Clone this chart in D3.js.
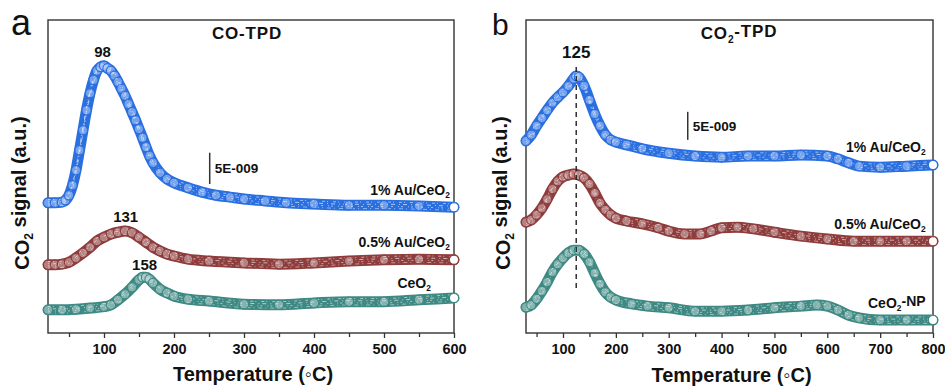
<!DOCTYPE html>
<html>
<head>
<meta charset="utf-8">
<script src="https://cdn.jsdelivr.net/npm/d3@7"></script>
<style>
  body { margin: 0; background: #fff; }
  svg text { font-family: "Liberation Sans", Arial, sans-serif; font-weight: bold; fill: #111; }
</style>
</head>
<body>
<svg id="chart" width="945" height="388"></svg>
<script>
// panel a: CO-TPD, signal in 1E-009 units (curves stacked with offsets)
const coTemp1 = [20,30,40,45,50,55,60,65,70,75,80,85,90,95,100,105,110,115,120,125,130,135,140,145,150,155,160,165,170,180,190,200,220,240,260,280,300,330,360,400,450,500,550,600];
const coSig1  = [20.8,20.8,20.9,21.2,22.0,23.6,26.0,29.2,32.4,35.6,38.3,40.4,41.9,42.5,42.7,42.3,41.9,41.1,40.1,39.0,37.9,36.6,35.3,34.0,32.6,31.2,29.7,28.3,27.2,25.6,24.6,24.0,23.2,22.5,22.0,21.7,21.4,21.1,20.8,20.6,20.4,20.4,20.3,20.1];
const coTemp05 = [20,30,40,50,60,70,80,90,100,110,120,130,140,150,160,170,180,190,200,220,250,300,350,400,450,500,550,600];
const coSig05  = [10.9,10.9,11.0,11.3,12.0,12.8,13.7,14.7,15.3,15.8,16.1,16.3,16.0,15.3,14.5,13.7,13.1,12.6,12.3,11.8,11.5,11.2,11.0,11.2,11.5,11.7,11.8,11.7];
const coTempCe = [20,40,60,80,100,110,120,130,140,150,155,160,165,170,180,190,200,220,250,300,350,400,450,500,550,600];
const coSigCe  = [3.7,3.7,3.8,4.0,4.2,4.5,5.3,6.2,7.3,8.5,8.9,8.9,8.6,8.0,7.0,6.4,5.9,5.4,5.1,4.6,4.5,4.8,5.0,5.0,5.3,5.6];

// panel b: CO2-TPD
const co2Temp1 = [30,40,50,60,70,80,90,100,110,120,125,130,140,150,160,170,180,190,200,220,250,300,350,400,450,500,550,600,620,640,660,700,750,800];
const co2Sig1  = [34.3,35.4,37.0,38.4,39.8,41.1,42.1,43.0,44.1,45.4,45.9,45.7,44.1,41.6,39.1,37.0,35.4,34.5,34.1,33.6,32.9,32.1,31.6,31.4,31.6,31.6,31.8,31.6,31.1,30.4,29.8,29.6,29.8,30.0];
const co2Temp05 = [30,40,50,60,70,80,90,100,110,120,130,140,150,160,170,180,190,200,220,250,280,300,330,360,380,400,430,460,500,550,600,650,700,750,800];
const co2Sig05  = [19.8,20.2,21.1,22.3,23.9,25.7,27.1,27.9,28.2,28.4,28.2,27.7,26.6,25.0,23.2,22.0,21.1,20.5,20.0,19.5,18.8,18.2,17.7,17.7,18.2,18.8,18.9,18.6,18.0,17.3,16.8,16.4,16.4,16.4,16.4];
const co2TempCe = [30,40,50,60,70,80,90,100,110,120,130,140,150,160,170,180,190,200,230,260,300,350,400,450,500,550,580,600,620,640,660,700,750,800];
const co2SigCe  = [4.6,5.0,6.1,7.5,9.1,10.9,12.3,13.4,14.3,14.8,14.8,14.1,12.7,10.7,8.8,7.3,6.4,5.9,5.2,4.8,4.5,3.9,3.9,4.1,4.5,4.8,5.0,4.8,4.1,3.2,2.7,2.3,2.3,2.3];

const tickA = [100,200,300,400,500,600];
const minorA = [50,150,250,350,450,550];
const tickB = [100,200,300,400,500,600,700,800];
const minorB = [50,150,250,350,450,550,650,750];

const blue = "#2a6fe0", red = "#8e3c3c", teal = "#3e8983";

const svg = d3.select("#chart");

function sub(sel, main, s, after) {
    sel.append("tspan").text(main);
    sel.append("tspan").attr("font-size", "0.6em").attr("dy", "0.35em").text(s);
    if (after) sel.append("tspan").attr("dy", "-0.35em").text(after);
}

function drawPanel(p) {
    const x = d3.scaleLinear().domain(p.xDomain).range([p.left, p.right]);
    const y = d3.scaleLinear().domain([0, p.yMax]).range([p.bottom, p.top]);
    const g = svg.append("g");

    //frame
    g.append("rect")
        .attr("x", p.left).attr("y", p.top)
        .attr("width", p.right - p.left).attr("height", p.bottom - p.top)
        .attr("fill", "none").attr("stroke", "#333").attr("stroke-width", 1.4);

    //bottom axis, major + minor ticks
    const ax = g.append("g").attr("transform", `translate(0,${p.bottom})`)
        .call(d3.axisBottom(x).tickValues(p.ticks).tickSize(5).tickSizeOuter(0).tickPadding(6));
    ax.select(".domain").remove();
    ax.selectAll("line").attr("stroke", "#333").attr("stroke-width", 1.3);
    ax.selectAll("text").style("font-size", "14.5px").attr("fill", "#111");
    const mx = g.append("g").attr("transform", `translate(0,${p.bottom})`)
        .call(d3.axisBottom(x).tickValues(p.minor).tickSize(4).tickFormat(""));
    mx.select(".domain").remove();
    mx.selectAll("line").attr("stroke", "#333").attr("stroke-width", 1.3);

    //curves: thick band of markers with white speckle
    const line = d3.line().x(d => x(d[0])).y(d => y(d[1])).curve(d3.curveMonotoneX);
    const speckle = [
        {off: -3.2, dash: "3 2 1 5", w: 0.9},
        {off: -1, dash: "1 3 4 4", w: 1.0},
        {off: 1.2, dash: "2 5 1 2", w: 0.9},
        {off: 3.3, dash: "4 3 1 4", w: 0.8}
    ];
    p.series.forEach(s => {
        const pts = s.t.map((t, i) => [t, s.v[i]]);
        const sg = g.append("g");
        sg.append("path").attr("d", line(pts)).attr("fill", "none")
            .attr("stroke", s.color).attr("stroke-width", 11)
            .attr("stroke-linecap", "round").attr("stroke-linejoin", "round");
        speckle.forEach(sp => {
            sg.append("path").attr("d", line(pts)).attr("fill", "none")
                .attr("transform", `translate(0,${sp.off})`)
                .attr("stroke", "#fff").attr("stroke-opacity", 0.6)
                .attr("stroke-width", sp.w)
                .attr("stroke-dasharray", sp.dash);
        });
        sg.selectAll("circle").data(pts).join("circle")
            .attr("cx", d => x(d[0])).attr("cy", d => y(d[1]))
            .attr("r", 4.6)
            .attr("fill", "#fff").attr("fill-opacity", 0.35)
            .attr("stroke", s.color).attr("stroke-width", 1.2);
        g.append("circle")
            .attr("cx", x(pts[pts.length - 1][0])).attr("cy", y(pts[pts.length - 1][1]))
            .attr("r", 4.6).attr("fill", "#fff").attr("stroke", s.color).attr("stroke-width", 1.2);
        const lab = g.append("text").attr("text-anchor", "end")
            .attr("x", x(s.labelAt[0])).attr("y", y(s.labelAt[1]))
            .style("font-size", "14px");
        sub(lab, s.name[0], "2", s.name[1]);
    });

    //scale bar
    g.append("line")
        .attr("x1", x(p.bar[0])).attr("x2", x(p.bar[0]))
        .attr("y1", y(p.bar[1])).attr("y2", y(p.bar[1] + 5))
        .attr("stroke", "#333").attr("stroke-width", 1.5);
    g.append("text").attr("x", x(p.bar[0]) + 5).attr("y", y(p.bar[1] + 2.5) + 5)
        .style("font-size", "13.5px").text("5E-009");

    //peak labels
    p.peaks.forEach(pk => {
        g.append("text").attr("text-anchor", "middle")
            .attr("x", x(pk.t)).attr("y", y(pk.v) - pk.dy)
            .style("font-size", pk.size + "px").text(pk.t);
    });

    //titles
    const title = g.append("text").attr("text-anchor", "middle")
        .attr("x", p.titleX).attr("y", 39).style("font-size", "17px")
        .style("letter-spacing", "0.8px");
    if (p.titleSub) sub(title, "CO", "2", "-TPD"); else title.text("CO-TPD");

    g.append("text").attr("x", p.letterX).attr("y", 35)
        .style("font-weight", "normal").style("font-size", p.letterSize + "px")
        .text(p.letter);

    const xl = g.append("text").attr("text-anchor", "middle")
        .attr("x", (p.left + p.right) / 2 + 2).attr("y", p.xLabelY)
        .style("font-size", "20px");
    xl.append("tspan").text("Temperature (");
    xl.append("tspan").style("font-weight", "normal").text("\u25E6");
    xl.append("tspan").text("C)");

    const yl = g.append("text").attr("text-anchor", "middle")
        .attr("transform", `translate(${p.yLabelX},193) rotate(-90)`)
        .style("font-size", "20px");
    sub(yl, "CO", "2", " signal (a.u.)");
}

drawPanel({
    letter: "a", letterX: 11, letterSize: 36,
    left: 48, right: 454, top: 20, bottom: 333,
    xDomain: [20, 600], yMax: 50, ticks: tickA, minor: minorA,
    titleX: 247, titleSub: false, xLabelY: 381, yLabelX: 29,
    bar: [251, 23.8],
    series: [
        {t: coTemp1, v: coSig1, color: blue, name: ["1% Au/CeO", ""], labelAt: [594, 22.0]},
        {t: coTemp05, v: coSig05, color: red, name: ["0.5% Au/CeO", ""], labelAt: [594, 13.7]},
        {t: coTempCe, v: coSigCe, color: teal, name: ["CeO", ""], labelAt: [567, 7.2]}
    ],
    peaks: [{t: 98, v: 42.7, dy: 9, size: 15}, {t: 131, v: 16.3, dy: 9, size: 15}, {t: 158, v: 8.9, dy: 7, size: 15}]
});

drawPanel({
    letter: "b", letterX: 492, letterSize: 30,
    left: 526, right: 933, top: 20, bottom: 333,
    xDomain: [30, 800], yMax: 55.9, ticks: tickB, minor: minorB,
    titleX: 739, titleSub: true, xLabelY: 382, yLabelX: 510,
    bar: [336, 34.5],
    series: [
        {t: co2Temp1, v: co2Sig1, color: blue, name: ["1% Au/CeO", ""], labelAt: [786, 32.3]},
        {t: co2Temp05, v: co2Sig05, color: red, name: ["0.5% Au/CeO", ""], labelAt: [786, 18.6]},
        {t: co2TempCe, v: co2SigCe, color: teal, name: ["CeO", "-NP"], labelAt: [786, 4.5]}
    ],
    peaks: [{t: 125, v: 45.9, dy: 18, size: 17}]
});

//dashed guide at 125 C in panel b
(function() {
    const x = d3.scaleLinear().domain([30, 800]).range([526, 933]);
    const y = d3.scaleLinear().domain([0, 55.9]).range([333, 20]);
    svg.append("line")
        .attr("x1", x(125)).attr("x2", x(125))
        .attr("y1", y(47.5)).attr("y2", y(7.4))
        .attr("stroke", "#222").attr("stroke-width", 1.4)
        .attr("stroke-dasharray", "5 4");
})();
</script>
</body>
</html>
